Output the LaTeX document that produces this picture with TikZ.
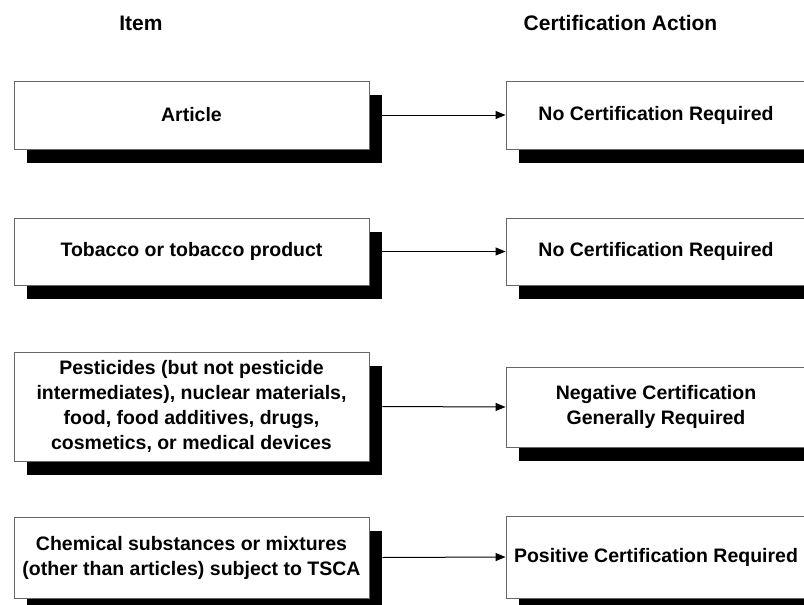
\documentclass[tikz,border=0pt]{standalone}
\usepackage{fontspec}
\setmainfont{Liberation Sans}
\usetikzlibrary{shadows,arrows.meta}
\begin{document}
\begin{tikzpicture}[x=1pt,y=-1pt,
  box/.style={draw=black!60, line width=0.9pt, fill=white, inner sep=0pt, align=center,
    font=\bfseries\fontsize{19.5}{25}\selectfont,
    drop shadow={shadow xshift=13pt, shadow yshift=-14pt, fill=black, opacity=1}},
  lbox/.style={box, minimum width=355pt},
  rbox/.style={box, minimum width=300pt},
  hdr/.style={font=\bfseries\fontsize{21}{25}\selectfont, inner sep=0pt},
  arr/.style={line width=1pt, -{Triangle[length=10pt,width=8pt]}}]
\useasboundingbox (0,0) rectangle (804,605);
\clip (0,0) rectangle (804,605);
\node[hdr] (h1) at (141,23) {Item};
\node[hdr] (h2) at (620.5,23) {Certification Action};

\node[lbox, minimum height=68pt] (L1) at (191.5,115) {Article};
\node[rbox, minimum height=68pt] (R1) at (656,115) {No Certification Required};

\node[lbox, minimum height=67pt] (L2) at (191.5,251.5) {Tobacco or tobacco product};
\node[rbox, minimum height=67pt] (R2) at (656,251.5) {No Certification Required};

\node[lbox, minimum height=109pt] (L3) at (191.5,406.5) {Pesticides (but not pesticide\\intermediates), nuclear materials,\\food, food additives, drugs,\\cosmetics, or medical devices};
\node[rbox, minimum height=80pt] (R3) at (656,407) {Negative Certification\\Generally Required};

\node[lbox, minimum height=81pt] (L4) at (191.5,557.5) {Chemical substances or mixtures\\(other than articles) subject to TSCA};
\node[rbox, minimum height=82pt] (R4) at (656,557) {Positive Certification Required};

\draw[arr] ([xshift=13pt]L1.east) -- (R1.west);
\draw[arr] ([xshift=13pt]L2.east) -- (R2.west);
\draw[arr] ([xshift=13pt]L3.east) -- (R3.west);
\draw[arr] ([xshift=13pt]L4.east) -- (R4.west);
\end{tikzpicture}
\end{document}
